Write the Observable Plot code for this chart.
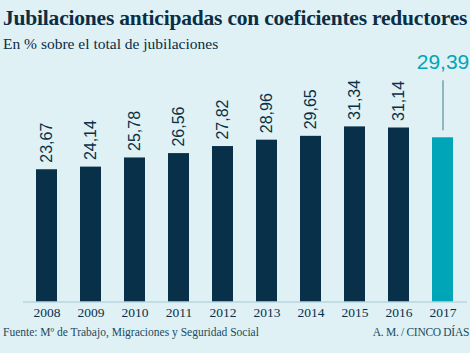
<!DOCTYPE html>
<html>
<head>
<meta charset="utf-8">
<script src="https://cdn.jsdelivr.net/npm/d3@7"></script>
<script src="https://cdn.jsdelivr.net/npm/@observablehq/plot@0.6"></script>
<style>
  html, body { margin: 0; padding: 0; }
  body { width: 470px; height: 353px; background: #dff1f4; position: relative; overflow: hidden; }
  .serif { font-family: "Liberation Serif", "DejaVu Serif", serif; }
  #title { position: absolute; left: 3px; top: 6px; font-size: 21.5px; font-weight: bold; color: #0b2d45; white-space: nowrap; letter-spacing: -0.2px; }
  #subtitle { position: absolute; left: 3px; top: 35px; font-size: 15.5px; color: #0b2d45; white-space: nowrap; }
  #chart { position: absolute; left: 0; top: 58px; }
  #source { position: absolute; left: 3px; top: 326px; font-size: 11.5px; color: #1b4a60; white-space: nowrap; }
  #credit { position: absolute; right: 1px; top: 326px; font-size: 11.5px; color: #1b4a60; white-space: nowrap; letter-spacing: -0.3px; }
</style>
</head>
<body>
<div id="title" class="serif">Jubilaciones anticipadas con coeficientes reductores</div>
<div id="subtitle" class="serif">En % sobre el total de jubilaciones</div>
<div id="chart"></div>
<div id="source" class="serif">Fuente: Mº de Trabajo, Migraciones y Seguridad Social</div>
<div id="credit" class="serif">A. M. / CINCO DÍAS</div>
<script>
const years = ["2008","2009","2010","2011","2012","2013","2014","2015","2016","2017"];
const values = [23.67, 24.14, 25.78, 26.56, 27.82, 28.96, 29.65, 31.34, 31.14, 29.39];
const highlightYear = "2017";

const data = years.map((year, i) => ({year, value: values[i], hl: year === highlightYear}));
const fmt = v => v.toFixed(2).replace(".", ",");
const navy = "#083049", teal = "#00a5b8";

const chart = Plot.plot({
  width: 470,
  height: 265,
  marginLeft: 23,
  marginRight: 3,
  marginTop: 20,
  marginBottom: 21.5,
  style: {background: "transparent", overflow: "visible"},
  x: {domain: years, paddingInner: 0.52, paddingOuter: 0.26, label: null},
  y: {domain: [0, 40], axis: null},
  marks: [
    Plot.barY(data, {x: "year", y: "value", fill: d => d.hl ? teal : navy}),
    Plot.ruleY([0], {stroke: "#a8c9d3", strokeWidth: 1}),
    Plot.axisX({tickSize: 0, tickPadding: 5, fontSize: 13.5, fontFamily: "Liberation Serif, serif", color: navy}),
    Plot.text(data.filter(d => !d.hl), {
      x: "year", y: "value", text: d => fmt(d.value),
      rotate: -90, textAnchor: "start", lineAnchor: "middle", dy: -7,
      fontSize: 16, fontFamily: "Liberation Sans, sans-serif", fill: navy
    }),
    Plot.ruleX(data.filter(d => d.hl), {
      x: "year", y1: "value", y2: "value", insetTop: -7, insetBottom: 57,
      stroke: "#5b8f9c", strokeWidth: 1.2
    }),
    Plot.text(data.filter(d => d.hl), {
      x: "year", y: "value", text: d => fmt(d.value),
      lineAnchor: "bottom", dy: -69,
      fontSize: 21, fontFamily: "Liberation Sans, sans-serif", fill: teal
    })
  ]
});
document.getElementById("chart").appendChild(chart);
</script>
</body>
</html>
